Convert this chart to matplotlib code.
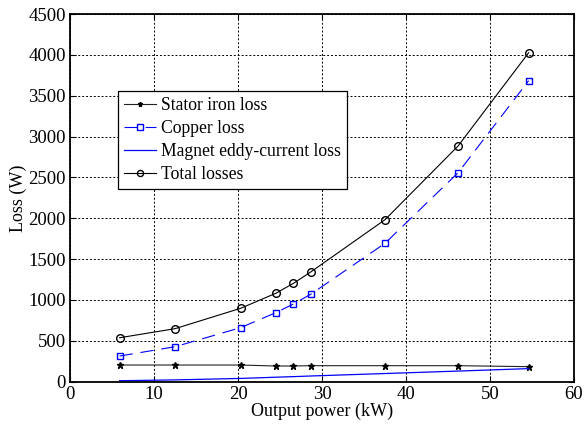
import matplotlib.pyplot as plt

plt.rcParams['font.family'] = ['Liberation Serif', 'DejaVu Serif']
plt.rcParams['mathtext.fontset'] = 'stix'

# output power points (kW)
potencia = [5.9, 12.5, 20.3, 24.5, 26.6, 28.7, 37.5, 46.2, 54.6]

# losses (W)
perda_ferro = [204, 204, 204, 192, 192, 196, 196, 196, 184]
perda_cobre = [314, 428, 661, 845, 951, 1073, 1694, 2558, 3684]
perda_ima = [12, 22, 40, 55, 62, 70, 100, 130, 160]
perda_total = [538, 649, 898, 1082, 1204, 1346, 1983, 2885, 4027]

fig = plt.figure(figsize=(5.85, 4.26), dpi=100)
ax = fig.add_axes([0.1197, 0.104, 0.8615, 0.863])

ax.plot(potencia, perda_ferro, color='#222222', lw=0.8, marker='*', ms=4.5,
        mec='black', mfc='black', label='Stator iron loss')
ax.plot(potencia, perda_cobre, color='blue', lw=0.8, dashes=(12, 7), marker='s', ms=5,
        mfc='none', mec='blue', label='Copper loss')
ax.plot(potencia, perda_ima, color='blue', lw=0.9, label='Magnet eddy-current loss')
ax.plot(potencia, perda_total, color='black', lw=0.8, marker='o', ms=5.5,
        mfc='none', mec='black', label='Total losses')

ax.set_xlim(0, 60)
ax.set_ylim(0, 4500)
ax.set_xticks(range(0, 61, 10))
ax.set_yticks(range(0, 4501, 500))
ax.grid(True, color='black', linestyle=(0, (2, 2)), linewidth=0.7)
ax.tick_params(direction='in', top=True, right=True, labelsize=13.5, length=4, width=0.8, pad=3)
for s in ax.spines.values():
    s.set_linewidth(1.3)

ax.set_xlabel('Output power (kW)', fontsize=13, labelpad=0)
ax.set_ylabel('Loss (W)', fontsize=13, labelpad=1)

leg = ax.legend(loc='upper left', bbox_to_anchor=(0.095, 0.79), borderaxespad=0,
                fontsize=12.7, fancybox=False, edgecolor='black', framealpha=1,
                handlelength=1.8, handletextpad=0.3, labelspacing=0.33, borderpad=0.35,
                markerscale=0.8)
leg.get_frame().set_linewidth(0.9)

plt.savefig('out.png', dpi=100)
plt.close()
